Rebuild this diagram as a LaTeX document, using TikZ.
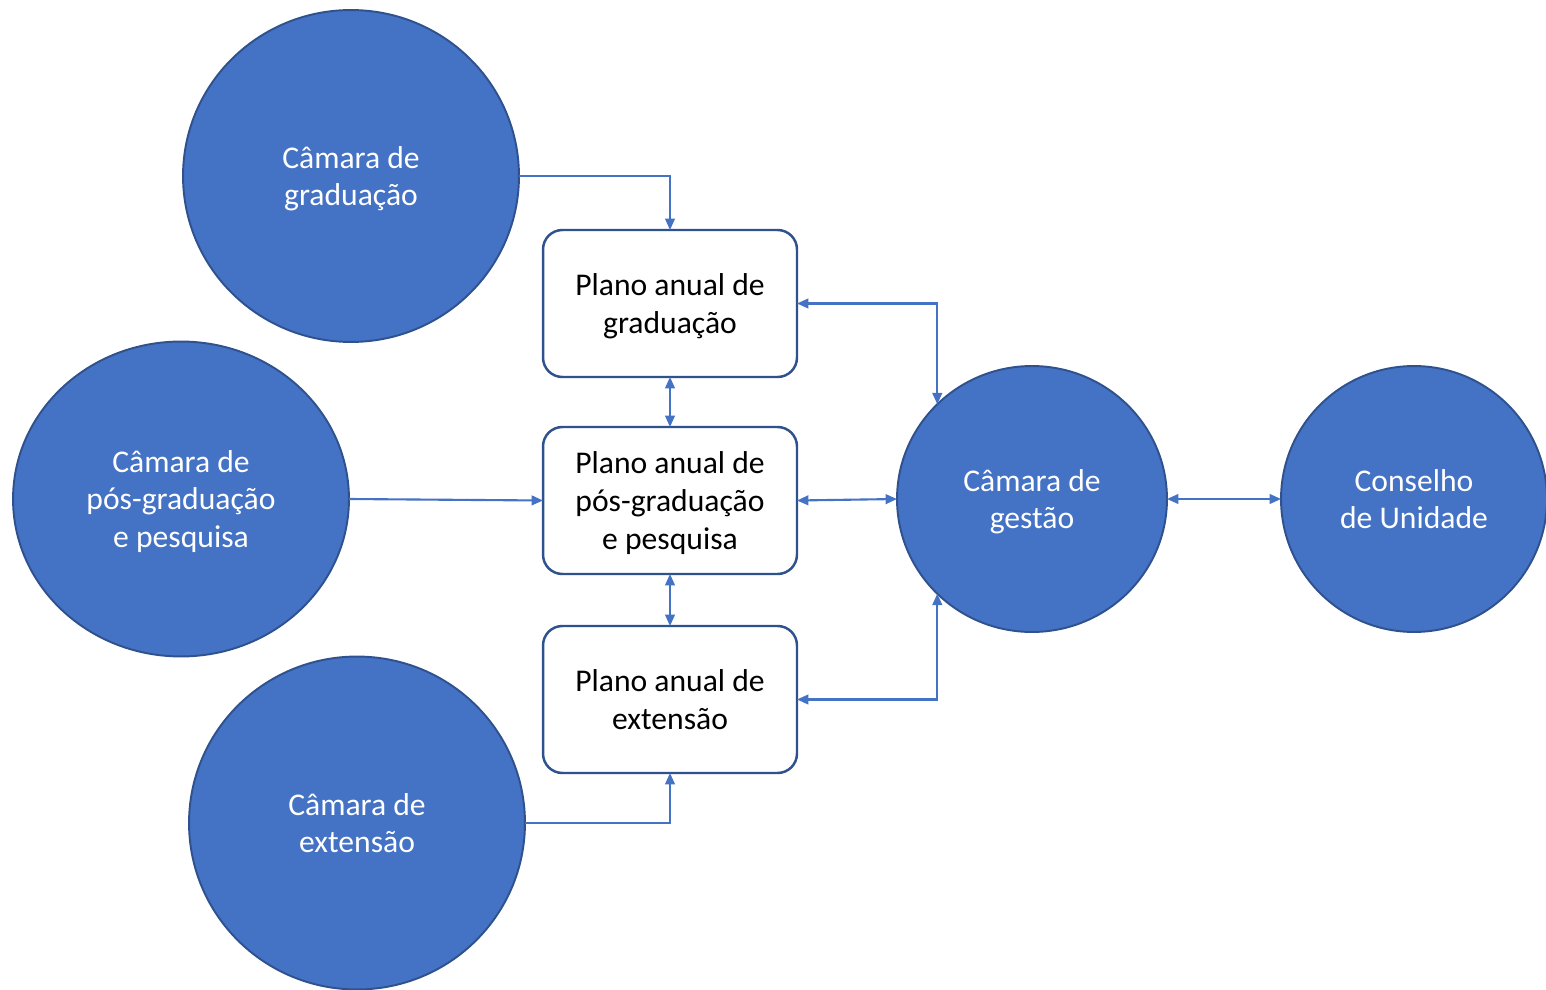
\documentclass[tikz,border=0pt]{standalone}
\usepackage{fontspec}
\setmainfont{Carlito}
\usetikzlibrary{shapes.geometric,arrows.meta}
\definecolor{fillblue}{HTML}{4472C4}
\definecolor{edgeblue}{HTML}{2F528F}
\tikzset{
  camara/.style={ellipse, fill=fillblue, draw=edgeblue, line width=1.1pt, inner sep=0pt, outer sep=0pt,
    text=white, align=center, text depth=0pt, font=\fontsize{18}{21.5}\selectfont},
  plano/.style={rectangle, rounded corners=11pt, draw=edgeblue, line width=1.4pt, fill=white,
    minimum width=5.08cm, minimum height=2.94cm, inner sep=0pt, outer sep=0pt,
    align=center, text depth=0pt, font=\fontsize{18}{21.5}\selectfont},
  tip/.style={Triangle[length=6.5pt,width=5.5pt]},
  conn/.style={draw=fillblue, line width=1.2pt, -{Triangle[length=6.5pt,width=5.5pt]}},
  bconn/.style={draw=fillblue, line width=1.2pt, {Triangle[length=6.5pt,width=5.5pt]}-{Triangle[length=6.5pt,width=5.5pt]}}
}
\begin{document}
\begin{tikzpicture}[x=0.02cm,y=-0.02cm]
\useasboundingbox (0,0) rectangle (1546,990);
\begin{scope}
\clip (0,0) rectangle (1546,990);
\node[camara, minimum width=6.72cm, minimum height=6.64cm] (gradC) at (351,176) {Câmara de\\graduação};
\node[camara, minimum width=6.72cm, minimum height=6.30cm] (posC) at (181,499) {Câmara de\\pós-graduação\\e pesquisa};
\node[camara, minimum width=6.72cm, minimum height=6.66cm] (extC) at (357,823) {Câmara de\\extensão};
\node[camara, minimum width=5.40cm, minimum height=5.32cm] (gest) at (1032,499) {Câmara de\\gestão};
\node[camara, minimum width=5.32cm, minimum height=5.32cm] (cons) at (1414,499) {Conselho\\de Unidade};
\end{scope}
\node[plano] (box1) at (670,303.5) {Plano anual de\\graduação};
\node[plano] (box2) at (670,500.5) {Plano anual de\\pós-graduação\\e pesquisa};
\node[plano] (box3) at (670,699.5) {Plano anual de\\extensão};
\draw[conn] (gradC.east) -| (box1.north);
\draw[conn] (posC.east) -- (box2.west);
\draw[conn] (extC.east) -| (box3.south);
\draw[bconn] (box1.south) -- (box2.north);
\draw[bconn] (box2.south) -- (box3.north);
\draw[bconn] (box1.east) -| (gest.135);
\draw[bconn] (box3.east) -| (gest.225);
\draw[bconn] (box2.east) -- (gest.west);
\draw[bconn] (gest.east) -- (cons.west);
\end{tikzpicture}
\end{document}
